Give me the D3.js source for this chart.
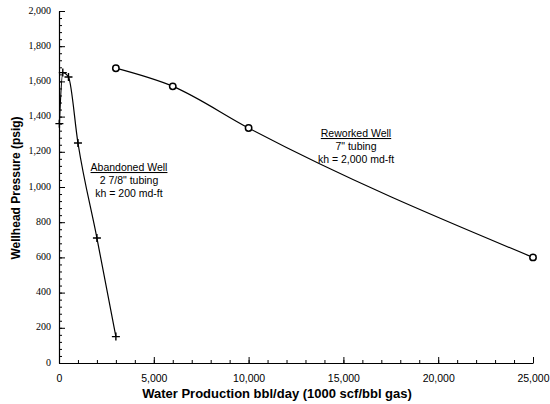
<!DOCTYPE html>
<html>
<head>
<meta charset="utf-8">
<script src="https://cdn.jsdelivr.net/npm/d3@7"></script>
<style>
  body { margin: 0; background: #fff; }
  text { fill: #000; }
</style>
</head>
<body>
<script>
var w = 550,
    h = 404;

// Abandoned Well: 2 7/8" tubing
var abandonedX = [20, 200, 500, 1000, 2000, 3000];
var abandonedY = [1360, 1650, 1625, 1250, 710, 150];

// Reworked Well: 7" tubing
var reworkedX = [3000, 6000, 10000, 25000];
var reworkedY = [1675, 1572, 1335, 600];

var xTicks = [0, 5000, 10000, 15000, 20000, 25000];
var yTicks = [0, 200, 400, 600, 800, 1000, 1200, 1400, 1600, 1800, 2000];

var x = d3.scaleLinear().domain([0, 25000]).range([59, 533]);
var y = d3.scaleLinear().domain([0, 2000]).range([363, 11]);

var svg = d3.select("body")
            .append("svg")
            .attr("width", w)
            .attr("height", h);

var fmt = d3.format(",");

// minor ticks
svg.append("g")
    .attr("transform", "translate(0," + y(0) + ")")
    .call(d3.axisBottom(x).tickValues(d3.range(0, 25001, 1000)).tickSize(-3).tickFormat(""))
    .call(function(g) { g.select(".domain").remove(); });

svg.append("g")
    .attr("transform", "translate(" + x(0) + ",0)")
    .call(d3.axisLeft(y).tickValues(d3.range(0, 2001, 40)).tickSize(-3).tickFormat(""))
    .call(function(g) { g.select(".domain").remove(); });

// major ticks
var xAxis = svg.append("g")
    .attr("transform", "translate(0," + y(0) + ")")
    .call(d3.axisBottom(x).tickValues(xTicks).tickSizeInner(-6).tickSizeOuter(0).tickPadding(12).tickFormat(fmt));

var yAxis = svg.append("g")
    .attr("transform", "translate(" + x(0) + ",0)")
    .call(d3.axisLeft(y).tickValues(yTicks).tickSizeInner(-6).tickSizeOuter(0).tickPadding(8).tickFormat(fmt));

svg.selectAll(".tick line").attr("stroke", "#000");
svg.selectAll(".domain").attr("stroke", "#000").attr("stroke-width", 1.2);

xAxis.selectAll(".tick text")
    .attr("font-family", "'Liberation Sans', Arial, sans-serif")
    .attr("font-size", "10.5px")
    .attr("fill", "#000");

yAxis.selectAll(".tick text")
    .attr("font-family", "'Liberation Serif', 'Times New Roman', serif")
    .attr("font-size", "10px")
    .attr("dy", "0.2em")
    .attr("fill", "#000");

// axis titles
svg.append("text")
    .attr("x", 277)
    .attr("y", 398)
    .attr("text-anchor", "middle")
    .attr("font-family", "'Liberation Sans', Arial, sans-serif")
    .attr("font-weight", "bold")
    .attr("font-size", "13px")
    .text("Water Production bbl/day (1000 scf/bbl gas)");

svg.append("text")
    .attr("transform", "translate(20,188) rotate(-90)")
    .attr("text-anchor", "middle")
    .attr("font-family", "'Liberation Sans', Arial, sans-serif")
    .attr("font-weight", "bold")
    .attr("font-size", "12px")
    .text("Wellhead Pressure (psig)");

// lines
var line = d3.line()
    .x(function(d) { return x(d[0]); })
    .y(function(d) { return y(d[1]); })
    .curve(d3.curveMonotoneX);

var abandoned = abandonedX.map(function(d, i) { return [d, abandonedY[i]]; });
var reworked = reworkedX.map(function(d, i) { return [d, reworkedY[i]]; });

svg.append("path")
    .datum(abandoned)
    .attr("d", line)
    .attr("fill", "none")
    .attr("stroke", "#000")
    .attr("stroke-width", 1.2);

svg.append("path")
    .datum(reworked)
    .attr("d", line)
    .attr("fill", "none")
    .attr("stroke", "#000")
    .attr("stroke-width", 1.2);

// markers
svg.selectAll("path.plus")
    .data(abandoned)
    .enter()
    .append("path")
    .attr("class", "plus")
    .attr("d", function(d) {
        var cx = x(d[0]), cy = y(d[1]);
        return "M" + (cx - 4) + "," + cy + "H" + (cx + 4) + "M" + cx + "," + (cy - 4) + "V" + (cy + 4);
    })
    .attr("stroke", "#000")
    .attr("stroke-width", 1.4);

svg.selectAll("circle")
    .data(reworked)
    .enter()
    .append("circle")
    .attr("cx", function(d) { return x(d[0]); })
    .attr("cy", function(d) { return y(d[1]); })
    .attr("r", 3.2)
    .attr("fill", "#fff")
    .attr("stroke", "#000")
    .attr("stroke-width", 1.5);

// annotations
function note(cx, cy, lines) {
    var g = svg.append("g");
    lines.forEach(function(t, i) {
        g.append("text")
            .attr("x", cx)
            .attr("y", cy + i * 13)
            .attr("text-anchor", "middle")
            .attr("font-family", "'Liberation Sans', Arial, sans-serif")
            .attr("font-size", "10.5px")
            .attr("text-decoration", i == 0 ? "underline" : null)
            .text(t);
    });
}

note(129, 171, ["Abandoned Well", "2 7/8\" tubing", "kh = 200 md-ft"]);
note(356, 137, ["Reworked Well", "7\" tubing", "kh = 2,000 md-ft"]);
</script>
</body>
</html>
